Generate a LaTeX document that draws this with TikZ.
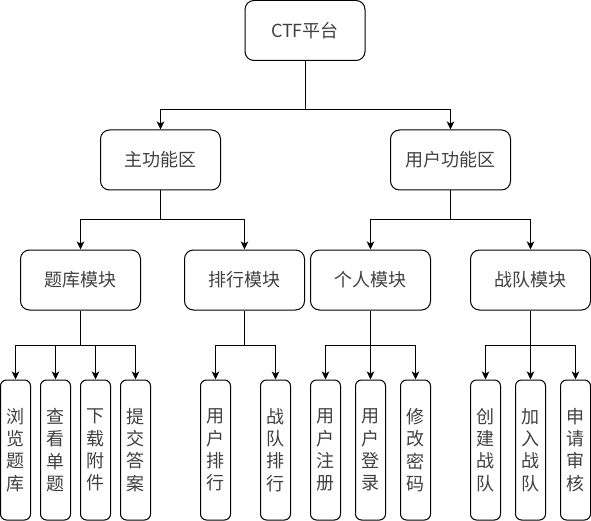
\documentclass[tikz,border=0pt]{standalone}
\usepackage{fontspec}
\newfontfamily\cjk{Noto Sans CJK SC}
\usetikzlibrary{arrows.meta}
\begin{document}
\begin{tikzpicture}[x=1pt,y=-1pt,
  box/.style={draw=black,line width=1pt,rounded corners=9pt,minimum width=120pt,minimum height=60pt,inner sep=0pt,
    font=\cjk\fontsize{18}{22}\selectfont,text=black!75},
  leaf/.style={draw=black,line width=1pt,rounded corners=6pt,minimum width=30pt,minimum height=140pt,inner sep=0pt,
    align=center,font=\cjk\fontsize{18}{22.3}\selectfont,text=black!75},
  link/.style={line width=1pt,-{Stealth[length=8pt,width=7.5pt,inset=2pt]}}]
\useasboundingbox (0,0) rectangle (591,521);

% root and second level
\node[box] (ctf) at (305,30.5) {CTF平台};
\node[box] (main) at (160.5,160) {主功能区};
\node[box] (user) at (450.5,160) {用户功能区};

% modules
\node[box] (tiku) at (80.5,280) {题库模块};
\node[box] (rank) at (244.5,280) {排行模块};
\node[box] (self) at (370.5,280) {个人模块};
\node[box] (team) at (530.5,280) {战队模块};

% leaf functions
\node[leaf] (l1) at (15.5,450) {浏\\览\\题\\库};
\node[leaf] (l2) at (55.5,450) {查\\看\\单\\题};
\node[leaf] (l3) at (95.5,450) {下\\载\\附\\件};
\node[leaf] (l4) at (135.5,450) {提\\交\\答\\案};
\node[leaf] (l5) at (215.5,450) {用\\户\\排\\行};
\node[leaf] (l6) at (275.5,450) {战\\队\\排\\行};
\node[leaf] (l7) at (325.5,450) {用\\户\\注\\册};
\node[leaf] (l8) at (370.5,450) {用\\户\\登\\录};
\node[leaf] (l9) at (415.5,450) {修\\改\\密\\码};
\node[leaf] (l10) at (485.5,450) {创\\建\\战\\队};
\node[leaf] (l11) at (530.5,450) {加\\入\\战\\队};
\node[leaf] (l12) at (575.5,450) {申\\请\\审\\核};

% branching heights
\coordinate (r0) at (0,110);
\coordinate (r1) at (0,220);
\coordinate (r2) at (0,345);

% connectors
\foreach \s/\t in {ctf/main,ctf/user}
  \draw[link] (\s.south) -- (\s.south |- r0) -| (\t.north);
\foreach \s/\t in {main/tiku,main/rank,user/self,user/team}
  \draw[link] (\s.south) -- (\s.south |- r1) -| (\t.north);
\foreach \s/\t in {tiku/l1,tiku/l2,tiku/l3,tiku/l4,rank/l5,rank/l6,self/l7,self/l8,self/l9,team/l10,team/l11,team/l12}
  \draw[link] (\s.south) -- (\s.south |- r2) -| (\t.north);
\end{tikzpicture}
\end{document}
